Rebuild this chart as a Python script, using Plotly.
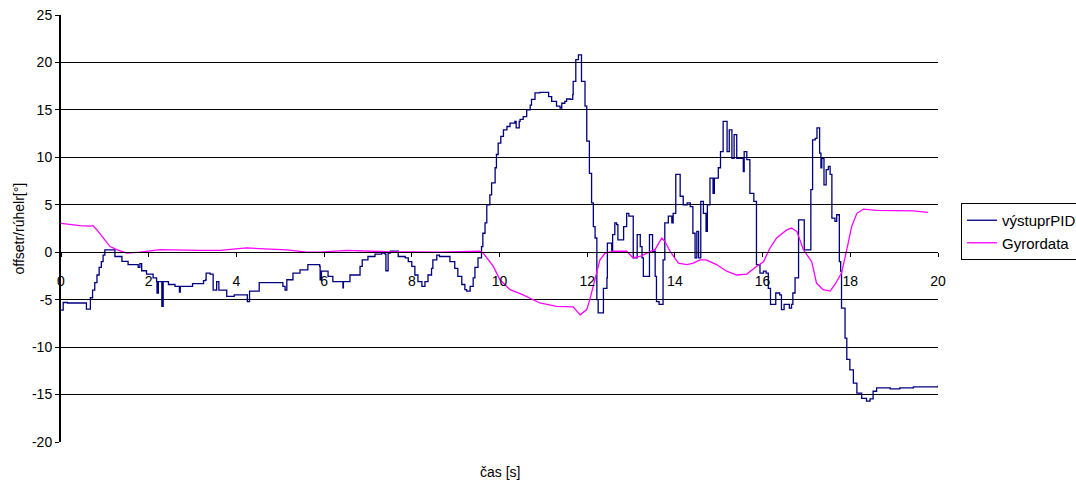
import plotly.graph_objects as go

# výstuprPID: controller output (stepped signal)
pid_t = [0.00, 0.05, 0.15, 0.57, 0.58, 0.66, 0.67, 0.72, 0.77, 0.82, 0.87, 0.92, 0.96, 1.00, 1.16, 1.23,
         1.39, 1.53, 1.76, 1.80, 1.84, 1.95, 2.10, 2.18, 2.19, 2.22, 2.30, 2.33, 2.45, 2.60, 2.70, 2.72,
         3.00, 3.25, 3.30, 3.31, 3.40, 3.47, 3.55, 3.60, 3.78, 3.95, 4.24, 4.25, 4.30, 4.52, 4.84, 5.06,
         5.11, 5.15, 5.29, 5.45, 5.63, 5.79, 5.90, 5.91, 5.94, 6.09, 6.20, 6.43, 6.44, 6.59, 6.82, 6.87,
         7.00, 7.16, 7.31, 7.39, 7.41, 7.46, 7.51, 7.66, 7.69, 7.85, 7.92, 8.00, 8.07, 8.14, 8.23, 8.30,
         8.37, 8.45, 8.48, 8.57, 8.63, 8.80, 8.87, 8.98, 9.05, 9.14, 9.21, 9.25, 9.33, 9.40, 9.44, 9.51,
         9.59, 9.62, 9.67, 9.71, 9.78, 9.82, 9.90, 9.93, 9.97, 10.03, 10.09, 10.17, 10.24, 10.35, 10.38,
         10.45, 10.47, 10.54, 10.62, 10.70, 10.73, 10.81, 10.92, 11.08, 11.12, 11.19, 11.30, 11.38, 11.42,
         11.49, 11.53, 11.62, 11.67, 11.68, 11.74, 11.80, 11.84, 11.87, 11.95, 11.99, 12.05, 12.10, 12.14,
         12.18, 12.22, 12.25, 12.33, 12.37, 12.45, 12.46, 12.56, 12.58, 12.63, 12.67, 12.70, 12.81, 12.83,
         12.90, 12.95, 13.04, 13.05, 13.13, 13.14, 13.21, 13.25, 13.28, 13.35, 13.42, 13.47, 13.49, 13.55,
         13.58, 13.64, 13.72, 13.73, 13.77, 13.85, 13.93, 13.96, 14.02, 14.08, 14.12, 14.19, 14.28, 14.35,
         14.41, 14.46, 14.50, 14.54, 14.59, 14.65, 14.71, 14.74, 14.80, 14.87, 14.90, 14.99, 15.04, 15.10,
         15.16, 15.19, 15.24, 15.28, 15.30, 15.35, 15.41, 15.52, 15.56, 15.58, 15.64, 15.70, 15.71, 15.80,
         15.86, 15.94, 16.02, 16.08, 16.13, 16.18, 16.26, 16.30, 16.39, 16.43, 16.49, 16.57, 16.61, 16.66,
         16.69, 16.74, 16.82, 16.93, 16.95, 17.07, 17.10, 17.14, 17.20, 17.24, 17.28, 17.30, 17.33, 17.35,
         17.39, 17.40, 17.45, 17.50, 17.54, 17.58, 17.65, 17.69, 17.74, 17.75, 17.78, 17.80, 17.88, 17.92,
         17.99, 18.07, 18.15, 18.26, 18.37, 18.45, 18.52, 18.60, 18.91, 19.13, 19.44, 20.00]
pid_v = [-6.1, -5.3, -5.35, -5.35, -6.0, -6.0, -4.8, -4.0, -3.2, -2.4, -1.6, -1.0, -0.3, 0.25, 0.25, -0.45,
         -0.97, -1.3, -1.6, -1.2, -1.95, -2.3, -2.7, -3.1, -4.3, -3.1, -5.7, -3.1, -3.4, -3.6, -4.2, -3.6,
         -3.3, -3.0, -2.9, -2.2, -2.3, -4.0, -3.1, -4.0, -4.65, -4.5, -4.5, -5.2, -4.1, -3.2, -3.2, -3.6,
         -4.0, -2.9, -2.2, -1.85, -1.3, -1.3, -1.5, -2.9, -2.0, -2.55, -3.1, -3.75, -3.1, -2.4, -1.5, -0.8,
         -0.45, -0.2, -0.1, -0.2, -1.95, -0.1, 0.1, 0.1, -0.45, -0.6, -1.0, -1.5, -2.4, -3.1, -3.6, -3.1,
         -2.4, -1.7, -0.8, -0.3, -0.45, -0.45, -1.0, -1.7, -2.55, -3.4, -3.95, -4.1, -3.6, -2.7, -1.6, -0.6,
         0.6, 2.0, 3.1, 5.0, 6.05, 7.3, 8.9, 10.3, 11.5, 12.2, 12.9, 13.25, 13.6, 13.8, 13.1,
         13.8, 14.0, 14.3, 15.0, 15.5, 16.1, 16.8, 16.85, 16.85, 16.4, 15.9, 15.4, 15.2, 15.7,
         15.9, 16.15, 16.1, 16.6, 18.0, 20.3, 20.8, 20.8, 18.0, 15.4, 11.7, 8.3, 5.2, 2.7,
         1.5, -5.0, -6.4, -6.4, -3.8, -2.7, 0.95, 0.1, 1.85, 3.1, 2.9, 1.3, 1.3, 2.7,
         4.1, 3.8, 3.8, -0.6, -0.6, 1.85, 0.6, -0.6, -2.55, -2.55, 1.85, 1.85, 0.1, -2.55,
         -5.2, -5.5, -5.5, -0.8, 3.1, 3.8, 3.1, 4.1, 8.2, 8.2, 5.9, 5.0, 5.2, 4.8,
         2.0, -0.6, 2.2, -0.6, 5.35, 4.1, 2.2, 5.0, 7.8, 6.2, 7.8, 8.9, 10.6, 13.8,
         13.8, 10.6, 12.9, 12.9, 9.9, 12.4, 9.9, 9.9, 8.5, 10.6, 9.75, 9.75, 6.2, 5.35,
         -1.3, -2.2, -2.0, -2.2, -3.8, -5.5, -5.5, -4.3, -4.5, -6.05, -5.5, -5.5, -5.9, -5.5,
         -4.3, -2.7, 3.4, 3.4, 0.25, 0.25, 6.6, 11.85, 12.0, 13.1, 13.1, 10.45, 8.9, 9.9,
         9.9, 7.1, 8.7, 9.05, 8.2, 3.6, 3.25, 3.95, 3.95, -1.0, -2.0, -5.9, -9.05, -11.3,
         -12.4, -13.8, -14.85, -15.4, -15.7, -15.45, -14.65, -14.3, -14.4, -14.3, -14.2, -14.05]

# Gyrordata: gyroscope angle
gyro_t = [0.00, 0.43, 0.66, 0.73, 0.81, 0.96, 1.12, 1.27, 1.50, 1.80, 2.26, 3.17, 3.63, 4.23, 4.69, 5.15,
          5.60, 5.91, 6.52, 7.43, 8.64, 9.40, 9.55, 9.63, 9.86, 10.01, 10.24, 10.54, 10.92, 11.30, 11.68,
          11.84, 11.99, 12.06, 12.14, 12.22, 12.29, 12.41, 12.60, 12.90, 13.05, 13.20, 13.43, 13.55, 13.70,
          13.77, 13.89, 14.08, 14.27, 14.42, 14.57, 14.71, 14.95, 15.18, 15.41, 15.64, 15.86, 16.02, 16.17,
          16.32, 16.55, 16.66, 16.78, 16.93, 17.12, 17.23, 17.38, 17.54, 17.65, 17.80, 17.92, 18.03, 18.15,
          18.30, 18.60, 19.44, 19.77]
gyro_v = [3.05, 2.8, 2.75, 2.8, 2.4, 1.5, 0.6, 0.27, -0.1, 0.0, 0.27, 0.2, 0.2, 0.45, 0.35, 0.25,
          0.0, 0.0, 0.2, 0.05, 0.0, 0.15, 0.1, -0.1, -1.5, -2.9, -3.95, -4.5, -5.35, -5.7, -5.75,
          -6.6, -6.05, -5.0, -3.6, -2.2, -0.8, -0.1, 0.1, 0.1, -0.6, -0.45, 0.1, 0.3, 1.5,
          1.15, 0.1, -1.15, -1.3, -1.15, -0.8, -0.8, -1.3, -2.0, -2.4, -2.3, -1.5, -1.0, 0.45,
          1.5, 2.35, 2.55, 2.2, 0.27, -1.0, -3.25, -3.95, -4.1, -3.4, -2.2, 0.27, 2.7, 4.1,
          4.55, 4.4, 4.35, 4.2]

x_ticks = [0, 2, 4, 6, 8, 10, 12, 14, 16, 18, 20]
y_ticks = [-20, -15, -10, -5, 0, 5, 10, 15, 20, 25]

FONT = "Arial, Liberation Sans, sans-serif"

fig = go.Figure()
fig.add_trace(go.Scatter(x=pid_t, y=pid_v, name="výstuprPID", mode="lines",
                         line=dict(color="#000080", width=1.3, shape="hv")))
fig.add_trace(go.Scatter(x=gyro_t, y=gyro_v, name="Gyrordata", mode="lines",
                         line=dict(color="#FF00FF", width=1.3)))

fig.update_layout(
    width=1076, height=485,
    margin=dict(l=61, r=138, t=15, b=43, autoexpand=False),
    paper_bgcolor="white", plot_bgcolor="white",
    font=dict(family=FONT, size=14, color="black"),
    showlegend=True,
    legend=dict(xref="container", yref="container", x=961 / 1076, y=1 - 203 / 485,
                xanchor="left", yanchor="top",
                bordercolor="black", borderwidth=1, bgcolor="white",
                font=dict(size=15), itemwidth=30, tracegroupgap=0),
    xaxis=dict(range=[0, 20], tickvals=x_ticks, ticktext=[str(v) for v in x_ticks],
               showgrid=False, zeroline=False, showline=True, linecolor="black", linewidth=1,
               anchor="free", position=20 / 45, ticks="outside", ticklen=4, tickcolor="black",
               ticklabelstandoff=12, automargin=False),
    yaxis=dict(range=[-20, 25], tickvals=y_ticks, ticktext=[str(v) for v in y_ticks],
               showgrid=True, gridcolor="black", gridwidth=1, zeroline=False,
               showline=True, linecolor="black", linewidth=2, mirror=False,
               ticks="outside", ticklen=4, tickcolor="black", automargin=False),
    annotations=[
        dict(text="offsetr/rúhelr[°]", xref="paper", yref="paper", x=-0.049, y=0.5,
             textangle=-90, showarrow=False, font=dict(size=14), xanchor="center", yanchor="middle"),
        dict(text="čas [s]", xref="paper", yref="paper", x=0.5, y=-0.070,
             showarrow=False, font=dict(size=14), xanchor="center", yanchor="middle"),
    ],
)

fig.write_html("out.html")
